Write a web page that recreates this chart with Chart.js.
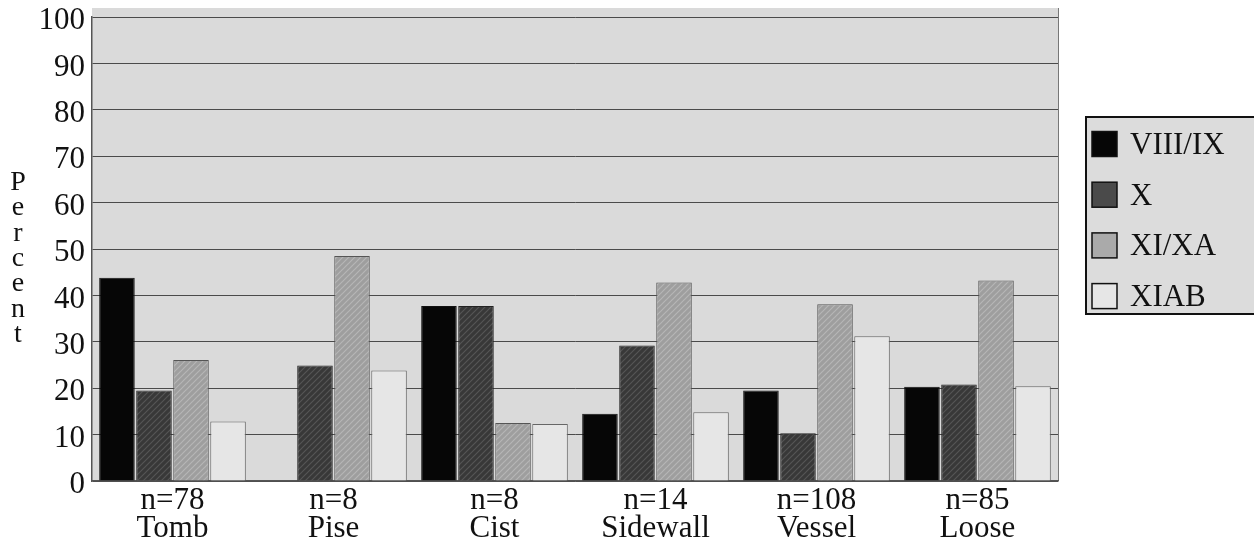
<!DOCTYPE html>
<html>
<head>
<meta charset="utf-8">
<script src="https://cdn.jsdelivr.net/npm/chart.js@4/dist/chart.umd.min.js"></script>
<style>
  html, body { margin: 0; padding: 0; background: #fff; }
  #wrap { width: 1254px; height: 548px; position: relative; }
</style>
</head>
<body>
<div id="wrap"><canvas id="chart"></canvas></div>
<script>
// Burial context / period breakdown (percent of each context's sample)
const contexts = [['n=78', 'Tomb'], ['n=8', 'Pise'], ['n=8', 'Cist'], ['n=14', 'Sidewall'], ['n=108', 'Vessel'], ['n=85', 'Loose']];
const periods  = ['VIII/IX', 'X', 'XI/XA', 'XIAB'];

const pctVIIIIX = [43.8, null, 37.7, 14.5, 19.5, 20.3];
const pctX      = [19.5, 24.9, 37.7, 29.2, 10.3, 20.8];
const pctXIXA   = [26.1, 48.5, 12.5, 42.8, 38.1, 43.2];
const pctXIAB   = [12.8, 23.8, 12.3, 14.8, 31.2, 20.4];

const yTicks = [0, 10, 20, 30, 40, 50, 60, 70, 80, 90, 100];

const SERIF = '"Liberation Serif", "DejaVu Serif", serif';
const PLOT_BG = '#dadada';

// small diagonal hatch used for the two grey fills
function hatch(base, line) {
  const c = document.createElement('canvas');
  c.width = 6; c.height = 6;
  const g = c.getContext('2d');
  g.fillStyle = base;
  g.fillRect(0, 0, 6, 6);
  g.strokeStyle = line;
  g.lineWidth = 1.2;
  g.beginPath();
  g.moveTo(0, 6); g.lineTo(6, 0);
  g.moveTo(-3, 3); g.lineTo(3, -3);
  g.moveTo(3, 9); g.lineTo(9, 3);
  g.stroke();
  return g.createPattern(c, 'repeat');
}

const fills   = ['#060606', hatch('#383838', '#565656'), hatch('#9e9e9e', '#b6b6b6'), '#e6e6e6'];
const swatch  = ['#060606', '#4a4a4a', '#aaaaaa', '#e6e6e6'];
const borders = ['#111', '#222', '#555', '#666'];

const series = [pctVIIIIX, pctX, pctXIXA, pctXIAB];

// grey panel behind the plot
const panelBg = {
  id: 'panelBg',
  beforeDraw(chart) {
    const { ctx, chartArea: a } = chart;
    ctx.save();
    ctx.fillStyle = PLOT_BG;
    ctx.fillRect(a.left, a.top - 9, a.right - a.left, a.bottom - a.top + 9);
    ctx.strokeStyle = '#777';
    ctx.lineWidth = 1;
    ctx.beginPath();
    ctx.moveTo(a.right + 0.5, a.top - 9);
    ctx.lineTo(a.right + 0.5, a.bottom);
    ctx.stroke();
    ctx.restore();
  }
};

// vertical "Percent" title, one letter per line
const stackedTitle = {
  id: 'stackedTitle',
  afterDraw(chart) {
    const ctx = chart.ctx;
    ctx.save();
    ctx.font = '28px ' + SERIF;
    ctx.fillStyle = '#111';
    ctx.textAlign = 'center';
    ctx.textBaseline = 'alphabetic';
    'Percent'.split('').forEach((ch, i) => ctx.fillText(ch, 18, 190 + i * 25.3));
    ctx.restore();
  }
};

// boxed legend to the right of the panel
const boxLegend = {
  id: 'boxLegend',
  afterDraw(chart) {
    const ctx = chart.ctx;
    const x0 = 1086, y0 = 117, h = 197;
    ctx.save();
    ctx.fillStyle = '#dcdcdc';
    ctx.fillRect(x0, y0, 1254 - x0 + 4, h);
    ctx.strokeStyle = '#111';
    ctx.lineWidth = 2;
    ctx.strokeRect(x0, y0, 1254 - x0 + 4, h);
    ctx.font = '31px ' + SERIF;
    ctx.textBaseline = 'alphabetic';
    chart.data.datasets.forEach((ds, i) => {
      const cy = 144 + i * 50.7;
      ctx.fillStyle = swatch[i];
      ctx.fillRect(1092, cy - 12.5, 25, 25);
      ctx.strokeStyle = '#111';
      ctx.lineWidth = 1.5;
      ctx.strokeRect(1092, cy - 12.5, 25, 25);
      ctx.fillStyle = '#111';
      ctx.fillText(ds.label, 1130, cy + 10);
    });
    ctx.restore();
  }
};

new Chart(document.getElementById('chart'), {
  type: 'bar',
  data: {
    labels: contexts,
    datasets: periods.map((p, i) => ({
      label: p,
      data: series[i],
      backgroundColor: fills[i],
      borderColor: borders[i],
      borderWidth: 1,
      barPercentage: 0.96,
      categoryPercentage: 0.92,
    })),
  },
  options: {
    responsive: true,
    maintainAspectRatio: false,
    animation: false,
    layout: { padding: { top: 0, right: 196, left: 0, bottom: 0 } },
    plugins: {
      legend: { display: false },
      tooltip: { enabled: false },
    },
    scales: {
      x: {
        afterFit: (s) => { s.height = 67; },
        grid: { display: false, drawTicks: false },
        border: { color: '#555', width: 1.5 },
        ticks: {
          color: '#111',
          padding: 6,
          font: { family: SERIF, size: 31, lineHeight: 0.9 },
        },
      },
      y: {
        min: 0,
        max: 100,
        afterFit: (s) => { s.width = 92; s.paddingTop = 17; s.paddingBottom = 0; },
        afterBuildTicks: (s) => { s.ticks = yTicks.map(v => ({ value: v })); },
        grid: { color: '#4a4a4a', lineWidth: 1, drawTicks: false },
        border: { color: '#555', width: 1.5 },
        ticks: {
          color: '#111',
          padding: 7,
          labelOffset: 4,
          font: { family: SERIF, size: 31, lineHeight: 1.1 },
        },
      },
    },
  },
  plugins: [panelBg, stackedTitle, boxLegend],
});
</script>
</body>
</html>
